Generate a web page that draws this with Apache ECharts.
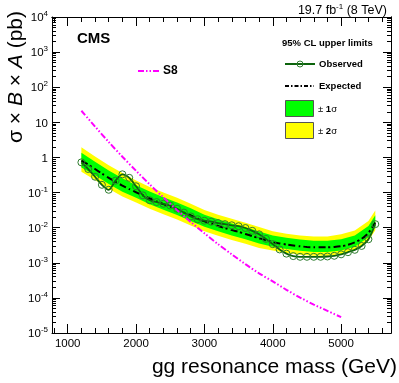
<!DOCTYPE html>
<html>
<head>
<meta charset="utf-8">
<script src="https://cdn.jsdelivr.net/npm/echarts@6/dist/echarts.min.js"></script>
<style>
html, body { margin: 0; padding: 0; background: #fff; }
#chart { width: 399px; height: 383px; }
</style>
</head>
<body>
<div id="chart"></div>
<script>
// resonance masses (GeV) of the limit points
const mass = [1200, 1300, 1400, 1500, 1600, 1700, 1800, 1900, 2000, 2100, 2200, 2300, 2400, 2500, 2600, 2700,
  2800, 2900, 3000, 3100, 3200, 3300, 3400, 3500, 3600, 3700, 3800, 3900, 4000, 4100, 4200, 4300, 4400,
  4500, 4600, 4700, 4800, 4900, 5000, 5100, 5200, 5300, 5400, 5500];
// observed 95% CL limit (pb)
const observed = [0.724, 0.468, 0.282, 0.166, 0.120, 0.219, 0.331, 0.263, 0.151, 0.0832, 0.0603, 0.0537,
  0.0479, 0.0427, 0.0347, 0.0269, 0.0209, 0.0174, 0.0158, 0.0148, 0.0135, 0.0126, 0.0117, 0.0110, 0.00977,
  0.00813, 0.00646, 0.00479, 0.00339, 0.00240, 0.00182, 0.00155, 0.00148, 0.00148, 0.00148, 0.00148,
  0.00151, 0.00158, 0.00174, 0.00200, 0.00234, 0.00302, 0.00468, 0.0126];
// expected 95% CL limit (pb)
const expected = [0.813, 0.631, 0.468, 0.347, 0.263, 0.200, 0.158, 0.126, 0.102, 0.0832, 0.0676, 0.0562,
  0.0468, 0.0398, 0.0331, 0.0269, 0.0224, 0.0182, 0.0151, 0.0132, 0.0112, 0.00977, 0.00851, 0.00759,
  0.00661, 0.00575, 0.00501, 0.00437, 0.00389, 0.00355, 0.00331, 0.00309, 0.00295, 0.00282, 0.00275,
  0.00275, 0.00275, 0.00282, 0.00295, 0.00324, 0.00380, 0.00479, 0.00708, 0.0141];

// expected-limit bands
const bandMass = [1200, 1400, 1600, 1800, 2000, 2200, 2400, 2600, 2800, 3000, 3200, 3400, 3600, 3800,
  4000, 4200, 4400, 4600, 4800, 5000, 5200, 5400, 5500];
const band1Hi = [1.35, 0.759, 0.427, 0.257, 0.162, 0.107, 0.0741, 0.0525, 0.0355, 0.0234, 0.0174, 0.0132,
  0.0102, 0.00776, 0.00603, 0.00513, 0.00457, 0.00427, 0.00427, 0.00468, 0.00603, 0.0112, 0.0224];
const band1Lo = [0.513, 0.309, 0.174, 0.105, 0.0708, 0.0468, 0.0324, 0.0229, 0.0155, 0.0107, 0.00794,
  0.00603, 0.00468, 0.00355, 0.00288, 0.00245, 0.00219, 0.00204, 0.00204, 0.00224, 0.00288, 0.00537, 0.0107];
const band2Hi = [1.95, 1.07, 0.603, 0.363, 0.219, 0.145, 0.100, 0.0708, 0.0479, 0.0316, 0.0234, 0.0178,
  0.0138, 0.0105, 0.00794, 0.00676, 0.00603, 0.00562, 0.00562, 0.00646, 0.00832, 0.0155, 0.0309];
const band2Lo = [0.389, 0.229, 0.129, 0.0776, 0.0525, 0.0347, 0.0240, 0.0170, 0.0115, 0.00794, 0.00589,
  0.00447, 0.00347, 0.00263, 0.00224, 0.00191, 0.00170, 0.00158, 0.00158, 0.00178, 0.00229, 0.00427, 0.00851];

// S8 model cross section (pb)
const s8Mass = [1200, 1400, 1600, 1800, 2000, 2200, 2400, 2600, 2800, 3000, 3200, 3400, 3600, 3800,
  4000, 4200, 4400, 4600, 4800, 5000];
const s8Xsec = [21.4, 7.59, 2.75, 1.05, 0.417, 0.170, 0.0724, 0.0316, 0.0145, 0.00692, 0.00339, 0.00174,
  0.000912, 0.000501, 0.000295, 0.000170, 0.000102, 0.0000646, 0.0000427, 0.0000282];

// tick values
const xTicks = [1000, 2000, 3000, 4000, 5000];
const yTicks = [1e-5, 1e-4, 1e-3, 1e-2, 1e-1, 1, 10, 1e2, 1e3, 1e4];

const xMinor = [];
for (let m = 800; m <= 5600; m += 200) {
  if (m % 1000 !== 0) xMinor.push(m);
}
const yMinor = [];
for (let e = -5; e < 4; e++) {
  for (let k = 2; k <= 9; k++) yMinor.push(k * Math.pow(10, e));
}

const FONT = 'Liberation Sans, Arial, Helvetica, sans-serif';
const XMIN = 770, XMAX = 5730;

function pairs(xs, ys) {
  return xs.map(function (x, i) { return [x, ys[i]]; });
}

function xAxisDef(gridIndex, position, ticks, len, labels) {
  return {
    type: 'value', gridIndex: gridIndex, position: position, min: XMIN, max: XMAX,
    axisLine: { show: labels || position === 'top', onZero: false, lineStyle: { color: '#000', width: 1 } },
    axisTick: { inside: true, length: len, customValues: ticks, lineStyle: { color: '#000', width: 1 } },
    axisLabel: labels ? {
      customValues: xTicks, margin: 5, fontSize: 11.5, color: '#000', fontFamily: FONT,
      formatter: function (v) { return String(v); }
    } : { show: false },
    splitLine: { show: false }
  };
}

function yLabel(v) {
  const e = Math.round(Math.log10(v));
  if (e === 0) return '{b|1}';
  if (e === 1) return '{b|10}';
  return '{b|10}{s|' + e + '}';
}

function yAxisDef(gridIndex, position, ticks, len, labels) {
  return {
    type: 'log', logBase: 10, gridIndex: gridIndex, position: position, min: 1e-5, max: 1e4,
    axisLine: { show: labels || position === 'right', onZero: false, lineStyle: { color: '#000', width: 1 } },
    axisTick: { inside: true, length: len, customValues: ticks, lineStyle: { color: '#000', width: 1 } },
    axisLabel: labels ? {
      customValues: yTicks, margin: 4, color: '#000', fontFamily: FONT,
      formatter: yLabel,
      rich: {
        b: { fontSize: 11.5, fontFamily: FONT, color: '#000', lineHeight: 14, verticalAlign: 'bottom' },
        s: { fontSize: 8, fontFamily: FONT, color: '#000', lineHeight: 14, verticalAlign: 'top', padding: [0, 0, 6, 0] }
      }
    } : { show: false },
    splitLine: { show: false }
  };
}

function bandSeries(lo, hi, color, z) {
  return {
    type: 'custom', xAxisIndex: 0, yAxisIndex: 0, silent: true, z: z,
    data: [[bandMass[0], hi[0]]],
    renderItem: function (params, api) {
      const pts = [];
      for (let i = 0; i < bandMass.length; i++) pts.push(api.coord([bandMass[i], hi[i]]));
      for (let i = bandMass.length - 1; i >= 0; i--) pts.push(api.coord([bandMass[i], lo[i]]));
      return { type: 'polygon', shape: { points: pts }, style: { fill: color } };
    }
  };
}

const chart = echarts.init(document.getElementById('chart'), null, { renderer: 'canvas' });

const gridBox = { left: 52, right: 8, top: 17, bottom: 50 };

const option = {
  backgroundColor: '#fff',
  animation: false,
  grid: [
    Object.assign({}, gridBox),
    Object.assign({}, gridBox)
  ],
  xAxis: [
    xAxisDef(0, 'bottom', xTicks, 9, true),
    xAxisDef(0, 'top', xTicks, 9, false),
    xAxisDef(1, 'bottom', xMinor, 5, false),
    xAxisDef(1, 'top', xMinor, 5, false)
  ],
  yAxis: [
    yAxisDef(0, 'left', yTicks, 8, true),
    yAxisDef(0, 'right', yTicks, 8, false),
    yAxisDef(1, 'left', yMinor, 4, false),
    yAxisDef(1, 'right', yMinor, 4, false)
  ],
  series: [
    bandSeries(band2Lo, band2Hi, '#ffff00', 1),
    bandSeries(band1Lo, band1Hi, '#00ff00', 2),
    {
      name: 'Expected', type: 'line', xAxisIndex: 0, yAxisIndex: 0, z: 4,
      data: pairs(mass, expected), showSymbol: false, symbol: 'none', smooth: 0.2,
      lineStyle: { color: '#000', width: 2, type: [7, 3, 2, 3] }
    },
    {
      name: 'Observed', type: 'line', xAxisIndex: 0, yAxisIndex: 0, z: 5,
      data: pairs(mass, observed), smooth: 0.3, symbol: 'circle', symbolSize: 7,
      itemStyle: { color: 'rgba(0,0,0,0)', borderColor: '#2f7d2f', borderWidth: 1 },
      lineStyle: { color: '#0c640c', width: 1.8 }
    },
    {
      name: 'S8', type: 'line', xAxisIndex: 0, yAxisIndex: 0, z: 6,
      data: pairs(s8Mass, s8Xsec), showSymbol: false, symbol: 'none', smooth: 0.3,
      lineStyle: { color: '#ff00ff', width: 2, type: [6, 2, 1.5, 2, 1.5, 2] }
    }
  ],
  graphic: [
    { type: 'text', x: 16, y: 77, rotation: Math.PI / 2,
      style: { text: '{n|σ × }{i|B}{n| × }{i|A}{n| (pb)}', align: 'center', verticalAlign: 'middle',
        rich: { n: { fontSize: 21, fontFamily: FONT, fill: '#000' },
                i: { fontSize: 21, fontFamily: FONT, fontStyle: 'italic', fill: '#000' } } } },
    { type: 'text', x: 397, y: 367,
      style: { text: 'gg resonance mass (GeV)', align: 'right', verticalAlign: 'middle',
        fontSize: 21, fontFamily: FONT, fill: '#000' } },
    { type: 'text', x: 387, y: 10,
      style: { text: '{n|19.7 fb}{s|-1}{n| (8 TeV)}', align: 'right', verticalAlign: 'middle',
        rich: { n: { fontSize: 12.5, fontFamily: FONT, fill: '#000', lineHeight: 14, verticalAlign: 'bottom' },
                s: { fontSize: 8, fontFamily: FONT, fill: '#000', lineHeight: 14, verticalAlign: 'top', padding: [0, 0, 6, 0] } } } },
    { type: 'text', x: 77, y: 39,
      style: { text: 'CMS', align: 'left', verticalAlign: 'middle', fontSize: 15, fontWeight: 'bold',
        fontFamily: FONT, fill: '#000' } },
    { type: 'text', x: 282, y: 43,
      style: { text: '95% CL upper limits', align: 'left', verticalAlign: 'middle', fontSize: 9.5,
        fontWeight: 'bold', fontFamily: FONT, fill: '#000' } },
    // S8 legend
    { type: 'line', shape: { x1: 138, y1: 71, x2: 159, y2: 71 },
      style: { stroke: '#ff00ff', lineWidth: 2, lineDash: [6, 2, 1.5, 2, 1.5, 2] } },
    { type: 'text', x: 163, y: 71,
      style: { text: 'S8', align: 'left', verticalAlign: 'middle', fontSize: 12, fontWeight: 'bold',
        fontFamily: FONT, fill: '#000' } },
    // Observed legend
    { type: 'line', shape: { x1: 285, y1: 64, x2: 315, y2: 64 },
      style: { stroke: '#0c640c', lineWidth: 2 } },
    { type: 'circle', shape: { cx: 300, cy: 64, r: 3 },
      style: { fill: 'rgba(0,0,0,0)', stroke: '#2f7d2f', lineWidth: 1 } },
    { type: 'text', x: 319, y: 64,
      style: { text: 'Observed', align: 'left', verticalAlign: 'middle', fontSize: 9.5, fontWeight: 'bold',
        fontFamily: FONT, fill: '#000' } },
    // Expected legend
    { type: 'line', shape: { x1: 285, y1: 86, x2: 314, y2: 86 },
      style: { stroke: '#000', lineWidth: 2, lineDash: [4, 2, 1.5, 2] } },
    { type: 'text', x: 319, y: 86,
      style: { text: 'Expected', align: 'left', verticalAlign: 'middle', fontSize: 9.5, fontWeight: 'bold',
        fontFamily: FONT, fill: '#000' } },
    // band legends
    { type: 'rect', shape: { x: 285.5, y: 100.5, width: 28, height: 16 },
      style: { fill: '#00ff00', stroke: '#555', lineWidth: 1 } },
    { type: 'text', x: 318, y: 109,
      style: { text: '{n|± }{b|1}{n|σ}', align: 'left', verticalAlign: 'middle',
        rich: { n: { fontSize: 9.5, fontFamily: FONT, fill: '#000' },
                b: { fontSize: 9.5, fontFamily: FONT, fontWeight: 'bold', fill: '#000' } } } },
    { type: 'rect', shape: { x: 285.5, y: 122.5, width: 28, height: 16 },
      style: { fill: '#ffff00', stroke: '#555', lineWidth: 1 } },
    { type: 'text', x: 318, y: 131,
      style: { text: '{n|± }{b|2}{n|σ}', align: 'left', verticalAlign: 'middle',
        rich: { n: { fontSize: 9.5, fontFamily: FONT, fill: '#000' },
                b: { fontSize: 9.5, fontFamily: FONT, fontWeight: 'bold', fill: '#000' } } } }
  ]
};

chart.setOption(option);
</script>
</body>
</html>
